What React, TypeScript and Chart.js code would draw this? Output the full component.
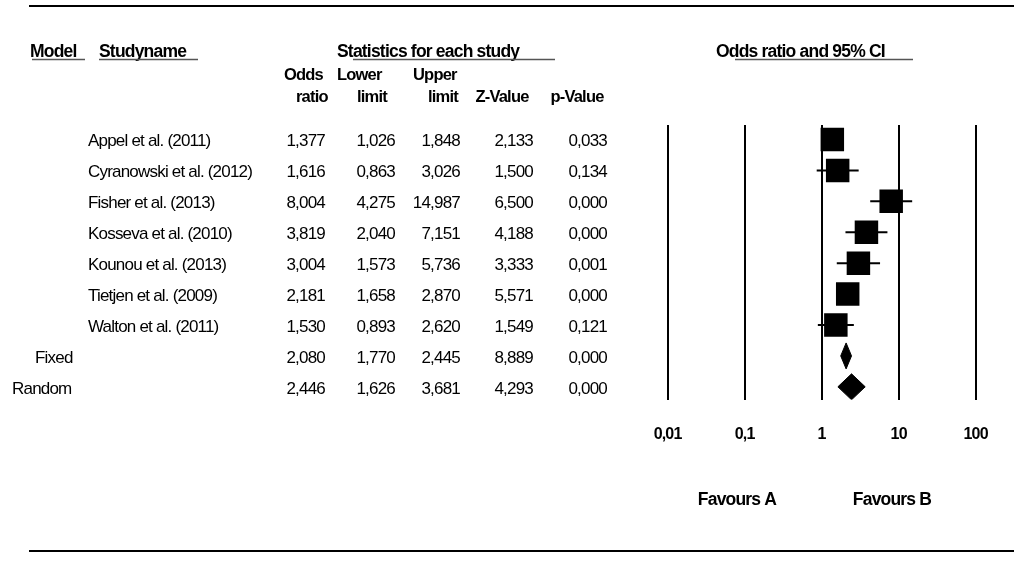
import React, { useEffect, useRef } from "react";
import { Chart, registerables } from "chart.js";

Chart.register(...registerables);

// ---- data ----
const studyNames = [
  "Appel et al. (2011)",
  "Cyranowski et al. (2012)",
  "Fisher et al. (2013)",
  "Kosseva et al. (2010)",
  "Kounou et al. (2013)",
  "Tietjen et al. (2009)",
  "Walton et al. (2011)",
];
const oddsRatio = [1.377, 1.616, 8.004, 3.819, 3.004, 2.181, 1.53];
const lowerLimit = [1.026, 0.863, 4.275, 2.04, 1.573, 1.658, 0.893];
const upperLimit = [1.848, 3.026, 14.987, 7.151, 5.736, 2.87, 2.62];
const zValue = [2.133, 1.5, 6.5, 4.188, 3.333, 5.571, 1.549];
const pValue = [0.033, 0.134, 0.0, 0.0, 0.001, 0.0, 0.121];

const modelNames = ["Fixed", "Random"];
const pooledOR = [2.08, 2.446];
const pooledLower = [1.77, 1.626];
const pooledUpper = [2.445, 3.681];
const pooledZ = [8.889, 4.293];
const pooledP = [0.0, 0.0];

const axisTicks = [0.01, 0.1, 1, 10, 100];
const favourLabels = ["Favours A", "Favours B"];

const FONT = '"Liberation Sans", Arial, sans-serif';
const fmt = (v: number) => v.toFixed(3).replace(".", ",");

export default function App() {
  const ref = useRef<HTMLCanvasElement | null>(null);

  useEffect(() => {
    const canvas = ref.current;
    if (!canvas) return;
    const nStudies = studyNames.length;

    const squares = {
      label: "studies",
      data: oddsRatio.map((v, i) => ({ x: v, y: i })),
      pointStyle: "rect",
      pointRadius: 16.6,
      pointHoverRadius: 16.6,
      backgroundColor: "#000",
      borderWidth: 0,
      showLine: false,
      order: 0,
    };
    const whiskers = oddsRatio.map((_, i) => ({
      label: "ci" + i,
      data: [
        { x: lowerLimit[i], y: i },
        { x: upperLimit[i], y: i },
      ],
      showLine: true,
      borderColor: "#000",
      borderWidth: 2,
      pointRadius: 0,
      order: 1,
    }));
    const diamonds = pooledOR.map((v, k) => {
      const r = nStudies + k;
      return {
        label: modelNames[k],
        data: [
          { x: pooledLower[k], y: r },
          { x: v, y: r - 0.42 },
          { x: pooledUpper[k], y: r },
          { x: v, y: r + 0.42 },
          { x: pooledLower[k], y: r },
        ],
        showLine: true,
        fill: "shape",
        tension: 0,
        backgroundColor: "#000",
        borderColor: "#000",
        borderWidth: 1,
        pointRadius: 0,
        order: 0,
      };
    });

    const tablePlugin = {
      id: "tablePlugin",
      beforeDraw(chart: any) {
        chart.ctx.letterSpacing = "-0.8px";
      },
      afterDraw(chart: any) {
        const ctx = chart.ctx as CanvasRenderingContext2D;
        const y = chart.scales.y;
        ctx.save();
        (ctx as any).letterSpacing = "-0.8px";
        ctx.fillStyle = "#000";
        ctx.strokeStyle = "#000";

        // frame lines
        ctx.lineWidth = 2;
        ctx.beginPath();
        ctx.moveTo(29, 6);
        ctx.lineTo(1014, 6);
        ctx.moveTo(29, 551);
        ctx.lineTo(1014, 551);
        ctx.stroke();

        // group headers
        ctx.textBaseline = "middle";
        ctx.textAlign = "left";
        ctx.font = `bold 17.5px ${FONT}`;
        ctx.fillText("Model", 30, 52);
        ctx.fillText("Studyname", 99, 52);
        ctx.fillText("Statistics for each study", 337, 52);
        ctx.fillText("Odds ratio and 95% CI", 716, 52);
        ctx.strokeStyle = "#555";
        ctx.lineWidth = 1.5;
        ctx.beginPath();
        [
          [32, 85],
          [99, 198],
          [353, 555],
          [735, 913],
        ].forEach(([a, b]) => {
          ctx.moveTo(a, 59.5);
          ctx.lineTo(b, 59.5);
        });
        ctx.stroke();

        // column headers
        ctx.font = `bold 16.5px ${FONT}`;
        const heads: [string, number, number][] = [
          ["Odds", 284, 75],
          ["ratio", 296, 97],
          ["Lower", 337, 75],
          ["limit", 357, 97],
          ["Upper", 413, 75],
          ["limit", 428, 97],
        ];
        heads.forEach(([t, x, yy]) => ctx.fillText(t, x, yy));
        ctx.textAlign = "center";
        ctx.fillText("Z-Value", 502, 97);
        ctx.fillText("p-Value", 577, 97);

        // rows
        ctx.font = `17px ${FONT}`;
        const colRight = [325, 395, 460, 533, 607];
        const drawRow = (name: string, nameX: number, r: number, vals: number[]) => {
          const py = y.getPixelForValue(r) + 2;
          ctx.textAlign = "left";
          ctx.fillText(name, nameX, py);
          ctx.textAlign = "right";
          vals.forEach((v, j) => ctx.fillText(fmt(v), colRight[j], py));
        };
        studyNames.forEach((n, i) =>
          drawRow(n, 88, i, [oddsRatio[i], lowerLimit[i], upperLimit[i], zValue[i], pValue[i]])
        );
        modelNames.forEach((n, k) =>
          drawRow(n, k === 0 ? 35 : 12, nStudies + k, [pooledOR[k], pooledLower[k], pooledUpper[k], pooledZ[k], pooledP[k]])
        );

        // favours labels
        ctx.font = `bold 17.5px ${FONT}`;
        ctx.textAlign = "center";
        ctx.fillText(favourLabels[0], 737, 500);
        ctx.fillText(favourLabels[1], 892, 500);
        ctx.restore();
      },
    };

    const chart = new Chart(canvas, {
      type: "scatter",
      data: { datasets: [squares, ...whiskers, ...diamonds] as any },
      options: {
        animation: false,
        responsive: false,
        events: [],
        layout: { padding: { left: 667.6, right: 35.6, top: 125, bottom: 110 } },
        plugins: { legend: { display: false }, tooltip: { enabled: false } },
        scales: {
          x: {
            type: "logarithmic",
            min: 0.01,
            max: 100,
            border: { display: false },
            grid: { color: "#000", lineWidth: 2, drawTicks: false },
            afterBuildTicks: (s: any) => {
              s.ticks = axisTicks.map((v) => ({ value: v }));
            },
            ticks: {
              autoSkip: false,
              maxRotation: 0,
              padding: 25,
              color: "#000",
              font: { family: FONT, size: 16, weight: "bold" },
              callback: (v: any) => String(v).replace(".", ","),
            },
          },
          y: {
            type: "linear",
            min: -0.47,
            max: 8.42,
            reverse: true,
            display: false,
          },
        },
      } as any,
      plugins: [tablePlugin],
    });
    return () => chart.destroy();
  }, []);

  return (
    <div style={{ position: "fixed", left: 0, top: 0, width: 1014, height: 579, background: "#fff" }}>
      <canvas ref={ref} width={1014} height={579} style={{ width: 1014, height: 579, display: "block" }} />
    </div>
  );
}
